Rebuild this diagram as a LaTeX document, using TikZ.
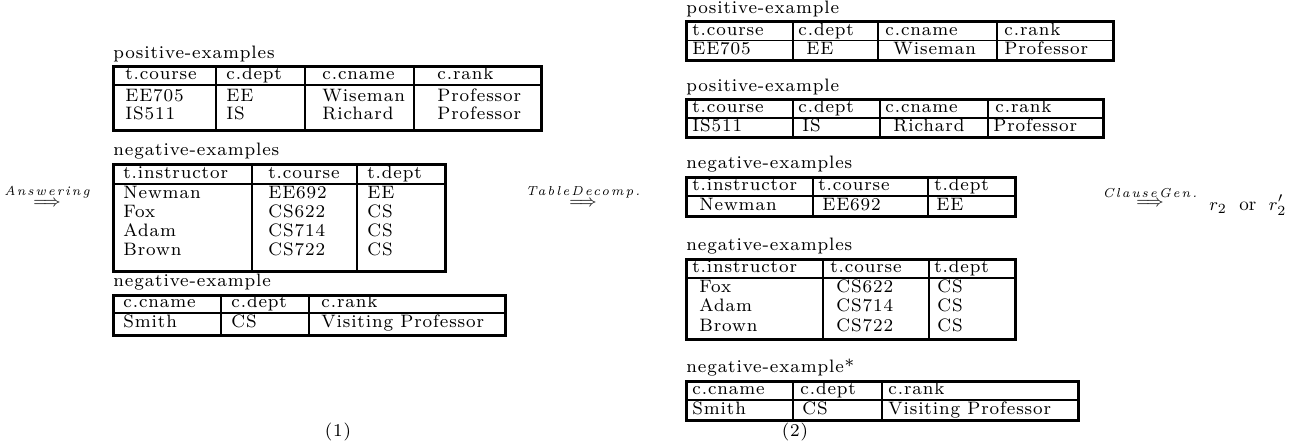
\documentclass[tikz,border=0pt]{standalone}
\usepackage{fontspec}
\setmainfont{lmroman10}[Extension=.otf, UprightFont=*-regular, ItalicFont=*-italic]
\newfontfamily\tabfont{lmroman8}[Extension=.otf, UprightFont=*-regular, LetterSpace=5]
\newfontfamily\stepfont{lmroman7}[Extension=.otf, UprightFont=*-italic, LetterSpace=15]
\usetikzlibrary{positioning}

\begin{document}
\begin{tikzpicture}[x=0.5pt, y=-0.5pt,
  tblframe/.style={line width=1.5pt},
  colline/.style={line width=1.1pt},
  headline/.style={line width=0.9pt},
  cell/.style={anchor=mid west, inner sep=0pt, font=\tabfont\fontsize{9}{10}\selectfont},
  lbl/.style={anchor=south west, inner sep=0pt, font=\tabfont\fontsize{9}{10}\selectfont},
  arrownode/.style={inner sep=0pt, font=\fontsize{8.5}{10}\selectfont},
  steplbl/.style={inner sep=0pt, font=\stepfont\fontsize{6.5}{7}\selectfont}
]
\useasboundingbox (0,0) rectangle (1291,445);

% --- (1): answer tables
\node[arrownode] (ans) at (47,203) {$\Longrightarrow$};
\node[steplbl, above=0.5pt of ans] (ans-lbl) {Answering};

\coordinate (pa) at (113,66);
\node[lbl, above right=2pt and 0pt of pa] (pa-lbl) {positive-examples};
\draw[tblframe] (pa) rectangle (541,130);
\draw[headline] (113,85) -- (541,85);
\foreach \x in {216,305,414} \draw[colline] (\x,66) -- (\x,130);
\foreach \x/\txt [count=\i] in {125/t.course,226/c.dept,322/c.cname,437/c.rank}
  \node[cell] (pa-h\i) at (\x,75.5) {\txt};
\foreach \x/\txt [count=\i] in {125/EE705,226/EE,322/Wiseman,437/Professor}
  \node[cell] (pa-a\i) at (\x,97) {\txt};
\foreach \x/\txt [count=\i] in {125/IS511,226/IS,322/Richard,437/Professor}
  \node[cell] (pa-b\i) at (\x,115.5) {\txt};

\coordinate (na) at (113,164);
\node[lbl, above right=2pt and 0pt of na] (na-lbl) {negative-examples};
\draw[tblframe] (na) rectangle (445,271);
\draw[headline] (113,184) -- (445,184);
\foreach \x in {252,357} \draw[colline] (\x,164) -- (\x,271);
\foreach \x/\txt [count=\i] in {123/t.instructor,268/t.course,367/t.dept}
  \node[cell] (na-h\i) at (\x,174) {\txt};
\foreach \y/\a/\b/\c [count=\i] in {194/Newman/EE692/EE,213/Fox/CS622/CS,232/Adam/CS714/CS,251/Brown/CS722/CS} {
  \node[cell] (na-\i a) at (123,\y) {\a};
  \node[cell] (na-\i b) at (268,\y) {\b};
  \node[cell] (na-\i c) at (367,\y) {\c};
}

\coordinate (sa) at (113,295);
\node[lbl, above right=2pt and 0pt of sa] (sa-lbl) {negative-example};
\draw[tblframe] (sa) rectangle (505,335);
\draw[headline] (113,313) -- (505,313);
\foreach \x in {221,309} \draw[colline] (\x,295) -- (\x,335);
\foreach \x/\txt [count=\i] in {123/c.cname,231/c.dept,321/c.rank}
  \node[cell] (sa-h\i) at (\x,303.5) {\txt};
\foreach \x/\txt [count=\i] in {123/Smith,231/CS,321/Visiting Professor}
  \node[cell] (sa-a\i) at (\x,323.5) {\txt};

\node[cell, anchor=center] (fig1) at (338,432) {(1)};

% --- (2): decomposed tables
\node[arrownode] (dec) at (583,203) {$\Longrightarrow$};
\node[steplbl, above=0.5pt of dec] (dec-lbl) {TableDecomp.};

\coordinate (t1) at (686,21);
\node[lbl, above right=2pt and 0pt of t1] (t1-lbl) {positive-example};
\draw[tblframe] (t1) rectangle (1113,60);
\draw[headline] (686,40.5) -- (1113,40.5);
\foreach \x in {793,878,997} \draw[colline] (\x,21) -- (\x,60);
\foreach \x/\txt [count=\i] in {692/t.course,798/c.dept,885/c.cname,1004/c.rank}
  \node[cell] (t1-h\i) at (\x,31) {\txt};
\foreach \x/\txt [count=\i] in {692/EE705,806/EE,893/Wiseman,1004/Professor}
  \node[cell] (t1-a\i) at (\x,50.5) {\txt};

\coordinate (t2) at (686,99);
\node[lbl, above right=2pt and 0pt of t2] (t2-lbl) {positive-example};
\draw[tblframe] (t2) rectangle (1103,137);
\draw[headline] (686,118) -- (1103,118);
\foreach \x in {793,880,988} \draw[colline] (\x,99) -- (\x,137);
\foreach \x/\txt [count=\i] in {692/t.course,798/c.dept,885/c.cname,995/c.rank}
  \node[cell] (t2-h\i) at (\x,108.5) {\txt};
\foreach \x/\txt [count=\i] in {692/IS511,802/IS,893/Richard,993/Professor}
  \node[cell] (t2-a\i) at (\x,127.5) {\txt};

\coordinate (t3) at (686,177);
\node[lbl, above right=2pt and 0pt of t3] (t3-lbl) {negative-examples};
\draw[tblframe] (t3) rectangle (1015,216);
\draw[headline] (686,196) -- (1015,196);
\foreach \x in {813,928} \draw[colline] (\x,177) -- (\x,216);
\foreach \x/\txt [count=\i] in {692/t.instructor,818/t.course,934/t.dept}
  \node[cell] (t3-h\i) at (\x,186.5) {\txt};
\foreach \x/\txt [count=\i] in {699/Newman,822/EE692,936/EE}
  \node[cell] (t3-a\i) at (\x,206) {\txt};

\coordinate (t4) at (686,259);
\node[lbl, above right=2pt and 0pt of t4] (t4-lbl) {negative-examples};
\draw[tblframe] (t4) rectangle (1015,339);
\draw[headline] (686,278) -- (1015,278);
\foreach \x in {823,929} \draw[colline] (\x,259) -- (\x,339);
\foreach \x/\txt [count=\i] in {692/t.instructor,830/t.course,934/t.dept}
  \node[cell] (t4-h\i) at (\x,268.5) {\txt};
\foreach \y/\a/\b/\c [count=\i] in {288/Fox/CS622/CS,307.5/Adam/CS714/CS,327/Brown/CS722/CS} {
  \node[cell] (t4-\i a) at (699,\y) {\a};
  \node[cell] (t4-\i b) at (836,\y) {\b};
  \node[cell] (t4-\i c) at (937,\y) {\c};
}

\coordinate (t5) at (686,381);
\node[lbl, above right=2pt and 0pt of t5] (t5-lbl) {negative-example*};
\draw[tblframe] (t5) rectangle (1078,420);
\draw[headline] (686,400) -- (1078,400);
\foreach \x in {793,882} \draw[colline] (\x,381) -- (\x,420);
\foreach \x/\txt [count=\i] in {692/c.cname,800/c.dept,888/c.rank}
  \node[cell] (t5-h\i) at (\x,390.5) {\txt};
\foreach \x/\txt [count=\i] in {692/Smith,802/CS,888/Visiting Professor}
  \node[cell] (t5-a\i) at (\x,410) {\txt};

\node[cell, anchor=center] (fig2) at (795,432) {(2)};

% --- clause generation
\node[arrownode] (gen) at (1150,203) {$\Longrightarrow$};
\node[steplbl, above=0.5pt of gen] (gen-lbl) {ClauseGen.};
\node[arrownode, anchor=west, font=\fontsize{9.5}{11}\selectfont] (rule) at (1209,205) {$r_2\ \ \mbox{or}\ \ r'_2$};
\end{tikzpicture}
\end{document}
